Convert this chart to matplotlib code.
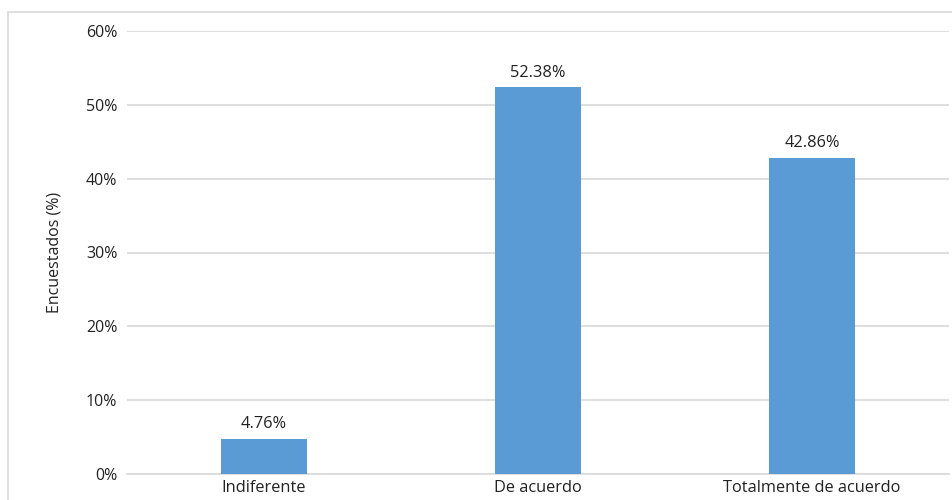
import matplotlib
matplotlib.use("Agg")
import matplotlib.pyplot as plt
from matplotlib.patches import Rectangle
from matplotlib.ticker import FuncFormatter

categories = ["Indiferente", "De acuerdo", "Totalmente de acuerdo"]
values = [4.76, 52.38, 42.86]
yticks = [0, 10, 20, 30, 40, 50, 60]

plt.rcParams['font.family'] = ['Open Sans', 'DejaVu Sans']

fig = plt.figure(figsize=(9.53, 5.0), dpi=100)
ax = fig.add_axes([127/953, 1-474/500, (949-127)/953, (474-31)/500])

x = range(len(categories))
ax.bar(x, values, width=0.314, color="#5B9BD5", zorder=3)
for xi, v in zip(x, values):
    ax.text(xi, v + 0.9, f"{v:.2f}%", ha="center", va="bottom", fontsize=11.8, color="#222222")

ax.set_xlim(-0.5, len(categories) - 0.5)
ax.set_ylim(0, 60)
ax.set_yticks(yticks)
ax.yaxis.set_major_formatter(FuncFormatter(lambda v, p: f"{v:.0f}%"))
ax.set_xticks(list(x))
ax.set_xticklabels(categories)
ax.grid(axis="y", color="#D9D9D9", linewidth=1.2, zorder=0)
for s in ["top", "right", "left"]:
    ax.spines[s].set_visible(False)
ax.spines["bottom"].set_color("#D9D9D9")
ax.spines["bottom"].set_linewidth(1.2)
ax.tick_params(axis="y", length=0, labelsize=11.5, colors="#222222", pad=7)
ax.tick_params(axis="x", length=0, labelsize=11.8, colors="#222222", pad=4)
ax.set_ylabel("Encuestados (%)", fontsize=11.5, color="#222222", labelpad=17)

fig.patches.append(Rectangle((8/953, -0.1), 1.0, 1-12/500 + 0.1, transform=fig.transFigure,
                             fill=False, edgecolor="#D9D9D9", linewidth=1.2))

fig.savefig("out.png", dpi=100)
